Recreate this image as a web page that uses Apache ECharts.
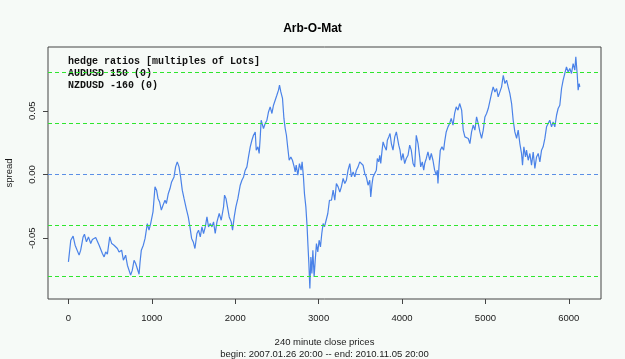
<!DOCTYPE html>
<html><head><meta charset="utf-8">
<script src="https://cdn.jsdelivr.net/npm/echarts@6/dist/echarts.min.js"></script>
<style>html,body{margin:0;padding:0;background:#f6faf7}#c{width:625px;height:359px}</style>
</head><body><div id="c"></div>
<script>
// bar index (240 minute close prices)
const idx = [0,28,56,80,96,128,147,176,192,216,240,267,287,308,327,347,368,387,407,428,447,467,495,519,547,566,587,607,638,659,686,707,727,746,766,787,806,826,847,859,874,898,919,946,966,986,1014,1038,1057,1074,1093,1114,1134,1158,1174,1198,1218,1237,1266,1285,1305,1326,1345,1365,1386,1413,1437,1457,1477,1497,1517,1541,1560,1581,1601,1620,1641,1661,1680,1701,1721,1740,1760,1781,1808,1832,1860,1872,1889,1908,1928,1952,1968,1988,2008,2032,2060,2080,2100,2120,2140,2159,2180,2200,2219,2240,2252,2272,2287,2299,2311,2327,2339,2359,2380,2399,2419,2440,2459,2479,2499,2519,2531,2547,2567,2584,2599,2614,2631,2647,2667,2686,2707,2719,2731,2751,2770,2790,2802,2818,2830,2847,2862,2871,2883,2895,2907,2919,2931,2946,2958,2974,2990,3006,3022,3038,3054,3070,3090,3110,3130,3154,3174,3194,3213,3234,3254,3273,3294,3314,3333,3353,3374,3393,3414,3434,3453,3473,3493,3513,3533,3553,3572,3593,3613,3625,3641,3653,3673,3692,3704,3721,3733,3745,3761,3773,3793,3812,3824,3841,3856,3872,3892,3913,3932,3944,3961,3976,3992,4012,4032,4051,4072,4092,4111,4132,4152,4171,4192,4212,4224,4243,4260,4272,4291,4311,4332,4351,4371,4391,4411,4423,4431,4443,4459,4479,4499,4511,4530,4551,4571,4590,4611,4631,4650,4671,4691,4700,4715,4734,4754,4774,4794,4814,4834,4854,4874,4894,4914,4934,4954,4974,4994,5014,5034,5054,5074,5093,5114,5134,5153,5174,5194,5214,5234,5254,5273,5293,5314,5333,5353,5374,5393,5413,5433,5445,5461,5481,5493,5513,5533,5553,5573,5593,5613,5633,5653,5673,5692,5713,5733,5752,5772,5793,5812,5832,5853,5872,5892,5913,5932,5952,5972,5992,6012,6032,6052,6072,6084,6100,6112,6124,6132];
// spread values
const spread = [-0.0686,-0.0516,-0.0484,-0.0555,-0.0542,-0.0633,-0.0594,-0.0490,-0.0469,-0.0529,-0.0490,-0.0542,-0.0510,-0.0502,-0.0495,-0.0502,-0.0555,-0.0568,-0.0620,-0.0647,-0.0608,-0.0626,-0.0490,-0.0542,-0.0555,-0.0549,-0.0581,-0.0608,-0.0594,-0.0673,-0.0633,-0.0712,-0.0725,-0.0790,-0.0751,-0.0673,-0.0699,-0.0712,-0.0783,-0.0686,-0.0594,-0.0555,-0.0502,-0.0385,-0.0437,-0.0385,-0.0294,-0.0097,-0.0123,-0.0188,-0.0215,-0.0280,-0.0241,-0.0202,-0.0228,-0.0149,-0.0110,-0.0058,-0.0019,0.0060,0.0099,0.0060,-0.0019,-0.0123,-0.0188,-0.0267,-0.0333,-0.0411,-0.0502,-0.0529,-0.0581,-0.0463,-0.0437,-0.0490,-0.0411,-0.0463,-0.0411,-0.0333,-0.0411,-0.0385,-0.0411,-0.0372,-0.0463,-0.0372,-0.0306,-0.0359,-0.0254,-0.0162,-0.0188,-0.0176,-0.0333,-0.0372,-0.0437,-0.0333,-0.0254,-0.0188,-0.0084,-0.0045,-0.0019,0.0034,0.0060,0.0138,0.0217,0.0269,0.0308,0.0334,0.0191,0.0217,0.0165,0.0283,0.0426,0.0440,0.0361,0.0400,0.0426,0.0491,0.0531,0.0479,0.0544,0.0583,0.0622,0.0662,0.0701,0.0648,0.0597,0.0440,0.0361,0.0308,0.0204,0.0112,0.0138,0.0112,0.0060,0.0020,0.0073,-0.0005,0.0086,0.0034,0.0099,-0.0019,-0.0149,-0.0254,-0.0411,-0.0542,-0.0699,-0.0895,-0.0647,-0.0777,-0.0594,-0.0804,-0.0686,-0.0542,-0.0608,-0.0516,-0.0568,-0.0463,-0.0385,-0.0411,-0.0359,-0.0306,-0.0202,-0.0202,-0.0123,-0.0202,-0.0071,-0.0097,-0.0137,-0.0097,-0.0031,-0.0071,-0.0045,0.0034,0.0086,-0.0019,0.0020,-0.0019,0.0034,0.0060,0.0099,0.0112,0.0073,0.0008,-0.0019,-0.0084,-0.0045,-0.0176,-0.0071,-0.0019,0.0008,0.0034,0.0126,0.0099,0.0151,0.0086,0.0191,0.0256,0.0217,0.0191,0.0269,0.0295,0.0322,0.0243,0.0191,0.0295,0.0334,0.0348,0.0230,0.0191,0.0112,0.0165,0.0086,0.0126,0.0151,0.0230,0.0191,0.0086,0.0060,0.0308,0.0243,0.0138,0.0060,0.0099,0.0034,0.0086,0.0126,0.0177,0.0112,0.0165,0.0112,0.0034,-0.0005,0.0034,-0.0071,0.0060,0.0191,0.0217,0.0191,0.0256,0.0334,0.0374,0.0400,0.0440,0.0387,0.0479,0.0531,0.0505,0.0557,0.0570,0.0505,0.0348,0.0295,0.0308,0.0283,0.0243,0.0334,0.0387,0.0348,0.0452,0.0400,0.0334,0.0283,0.0348,0.0452,0.0479,0.0518,0.0531,0.0636,0.0688,0.0648,0.0675,0.0609,0.0622,0.0688,0.0779,0.0714,0.0740,0.0688,0.0636,0.0557,0.0426,0.0334,0.0283,0.0348,0.0243,0.0165,0.0073,0.0217,0.0138,0.0191,0.0112,0.0165,0.0073,0.0177,0.0047,0.0138,0.0165,0.0099,0.0191,0.0217,0.0283,0.0374,0.0400,0.0426,0.0374,0.0413,0.0374,0.0465,0.0518,0.0544,0.0675,0.0740,0.0793,0.0845,0.0805,0.0832,0.0793,0.0871,0.0819,0.0923,0.0793,0.0662,0.0714,0.0688];
const xTicks = [0,1000,2000,3000,4000,5000,6000];
const yTicks = [-0.05,0,0.05];
const outerBands = [0.0832,-0.0832];
const innerBands = [0.0416,-0.0416];
const zeroLine = [0];
const titleText = 'Arb-O-Mat';
const yName = 'spread';
const xName = ['240 minute close prices','begin: 2007.01.26 20:00 -- end: 2010.11.05 20:00'];
const noteLines = ['hedge ratios [multiples of Lots]','AUDUSD 150 (0)','NZDUSD -160 (0)'];

const chart = echarts.init(document.getElementById('c'), null, {renderer:'canvas'});
const sans = 'Liberation Sans, Arial, sans-serif';
const txt = '#1a1a1a';
const markData = []
  .concat(outerBands.map(v=>({yAxis:v, lineStyle:{color:'#2ee62e'}})))
  .concat(innerBands.map(v=>({yAxis:v, lineStyle:{color:'#2ee62e'}})))
  .concat(zeroLine.map(v=>({yAxis:v, lineStyle:{color:'#5b8fe6'}})));
chart.setOption({
  animation:false,
  backgroundColor:'#f6faf7',
  title:{text:titleText,left:'center',top:18,textStyle:{fontFamily:sans,fontSize:12,fontWeight:'bold',color:'#000'}},
  grid:{left:48,right:24,top:47,bottom:60,outerBoundsMode:'none',containLabel:false,show:true,borderColor:'#444',borderWidth:1,backgroundColor:'transparent'},
  xAxis:{type:'value',min:-245,max:6386,
    axisLine:{show:false,onZero:false},splitLine:{show:false},
    axisTick:{show:true,length:5,lineStyle:{color:'#444'},customValues:xTicks},
    axisLabel:{customValues:xTicks,margin:14,fontFamily:sans,fontSize:9.5,color:txt,formatter:v=>String(v)},
    name:xName.join('\n'),nameLocation:'middle',nameGap:37,
    nameTextStyle:{fontFamily:sans,fontSize:9.5,color:txt,lineHeight:12}},
  yAxis:{type:'value',min:-0.09772,max:0.10008,
    axisLine:{show:false,onZero:false},splitLine:{show:false},
    axisTick:{show:true,length:5,lineStyle:{color:'#444'},customValues:yTicks},
    axisLabel:{customValues:yTicks,rotate:90,margin:11,fontFamily:sans,fontSize:9.5,color:txt,
      formatter:v=>v.toFixed(2)},
    name:yName,nameLocation:'middle',nameRotate:90,nameGap:34,
    nameTextStyle:{fontFamily:sans,fontSize:9.5,color:txt}},
  graphic:noteLines.map((t,i)=>({type:'text',left:68,top:56+i*12,
    style:{text:t,font:'bold 10px "Liberation Mono", "Courier New", monospace',fill:'#111'}})),
  series:[{type:'line',data:idx.map((x,i)=>[x,spread[i]]),showSymbol:false,
    lineStyle:{color:'#4a82e8',width:1.2},
    markLine:{silent:true,symbol:['none','none'],label:{show:false},
      lineStyle:{type:[4,3],width:1},data:markData}}]
});
</script></body></html>
